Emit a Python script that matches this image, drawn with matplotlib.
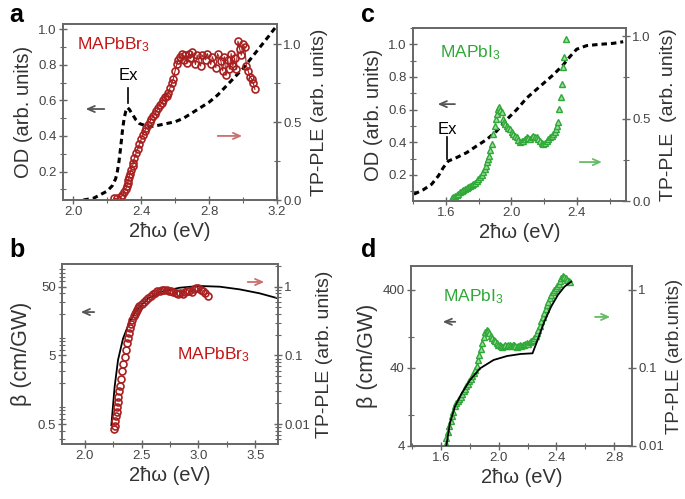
#!/usr/bin/env python3

from matplotlib import pyplot as plt
from matplotlib.ticker import MultipleLocator, LogLocator, NullFormatter
import matplotlib


FIGSIZE = (6.85, 4.99)
GRAY = "#666666"
TICKTXT = "#444444"
LABTXT = "#333333"
RED = "#a82020"
RED_TXT = "#c41414"
GREEN = "#2ea836"
GREEN_FILL = "#9fdca0"

# ---- panel a: MAPbBr3, OD (left) and TP-PLE (right)
a_od_x = [2.06, 2.12, 2.16, 2.20, 2.23, 2.25, 2.26, 2.27, 2.28, 2.29, 2.30, 2.31,
          2.32, 2.33, 2.35, 2.37, 2.39, 2.42, 2.44, 2.47, 2.50, 2.55, 2.60, 2.65,
          2.70, 2.75, 2.80, 2.85, 2.90, 2.95, 3.00, 3.05, 3.10, 3.15, 3.19]
a_od_y = [0.04, 0.05, 0.07, 0.09, 0.12, 0.16, 0.20, 0.26, 0.34, 0.43, 0.50, 0.54,
          0.56, 0.55, 0.52, 0.49, 0.47, 0.46, 0.455, 0.455, 0.46, 0.47, 0.48, 0.50,
          0.53, 0.56, 0.59, 0.63, 0.68, 0.73, 0.78, 0.84, 0.90, 0.96, 1.01]
a_ple_x = [2.24, 2.26, 2.28, 2.29, 2.30, 2.31, 2.315, 2.32, 2.325, 2.33, 2.335,
           2.34, 2.35, 2.355, 2.36, 2.37, 2.38, 2.39, 2.40, 2.41, 2.42, 2.43,
           2.44, 2.45, 2.46, 2.47, 2.48, 2.49, 2.50, 2.51, 2.52, 2.53, 2.54,
           2.55, 2.56, 2.57, 2.58, 2.59, 2.60, 2.61, 2.62, 2.63, 2.64, 2.65,
           2.66, 2.67, 2.68, 2.69, 2.70, 2.72, 2.73, 2.75, 2.76, 2.78, 2.79,
           2.81, 2.82, 2.84, 2.85, 2.87, 2.88, 2.89, 2.90, 2.91, 2.92, 2.93,
           2.94, 2.95, 2.96, 2.97, 2.98, 2.99, 3.00, 3.01, 3.02, 3.03, 3.04,
           3.05, 3.06, 3.07]
a_ple_y = [0.01, 0.01, 0.02, 0.03, 0.05, 0.07, 0.09, 0.11, 0.13, 0.15, 0.17,
           0.19, 0.22, 0.24, 0.27, 0.30, 0.33, 0.36, 0.39, 0.42, 0.44, 0.46,
           0.48, 0.50, 0.52, 0.54, 0.55, 0.57, 0.59, 0.61, 0.62, 0.64, 0.66,
           0.67, 0.69, 0.72, 0.75, 0.78, 0.83, 0.87, 0.90, 0.92, 0.94, 0.90,
           0.93, 0.88, 0.94, 0.91, 0.95, 0.87, 0.93, 0.86, 0.93, 0.90, 0.94,
           0.87, 0.92, 0.85, 0.94, 0.89, 0.83, 0.92, 0.80, 0.90, 0.84, 0.94,
           0.86, 0.91, 0.84, 1.02, 0.97, 0.93, 1.00, 0.98, 0.86, 0.83, 0.79,
           0.78, 0.75, 0.71]

# ---- panel b: MAPbBr3, beta (left, log) and TP-PLE (right, log)
b_fit_x = [2.234, 2.263, 2.293, 2.337, 2.395, 2.469, 2.556, 2.674, 2.835,
           3.01, 3.187, 3.363, 3.539, 3.70]
b_fit_y = [0.48, 1.75, 4.3, 8.8, 15.5, 24.2, 33.8, 42.3, 48.3, 51.2, 50.0,
           45.7, 40.0, 33.8]
b_ple_x = [2.26, 2.265, 2.27, 2.275, 2.28, 2.285, 2.29, 2.295, 2.30, 2.31,
           2.32, 2.33, 2.34, 2.35, 2.36, 2.37, 2.38, 2.39, 2.40, 2.41, 2.42,
           2.43, 2.44, 2.45, 2.46, 2.47, 2.48, 2.50, 2.52, 2.54, 2.56, 2.58,
           2.60, 2.62, 2.64, 2.66, 2.68, 2.70, 2.72, 2.74, 2.76, 2.78, 2.80,
           2.82, 2.84, 2.86, 2.88, 2.90, 2.92, 2.94, 2.96, 2.98, 3.00, 3.02,
           3.04, 3.06, 3.08]
b_ple_y = [0.0085, 0.0095, 0.011, 0.013, 0.015, 0.018, 0.021, 0.025, 0.03,
           0.036, 0.045, 0.06, 0.075, 0.095, 0.12, 0.15, 0.18, 0.21, 0.25,
           0.29, 0.33, 0.37, 0.40, 0.43, 0.46, 0.49, 0.52, 0.56, 0.60, 0.64,
           0.68, 0.73, 0.78, 0.82, 0.86, 0.88, 0.90, 0.89, 0.91, 0.88, 0.86,
           0.84, 0.80, 0.78, 0.81, 0.77, 0.83, 0.86, 0.88, 0.84, 0.92, 0.97,
           0.95, 0.90, 0.86, 0.80, 0.72]

# ---- panel c: MAPbI3, OD (left) and TP-PLE (right)
c_od_x = [1.406, 1.463, 1.514, 1.555, 1.585, 1.616, 1.666, 1.727, 1.788,
          1.85, 1.91, 1.972, 2.033, 2.094, 2.175, 2.256, 2.317, 2.358, 2.399,
          2.46, 2.541, 2.622, 2.683]
c_od_y = [0.082, 0.109, 0.143, 0.194, 0.245, 0.285, 0.306, 0.336, 0.377,
          0.417, 0.468, 0.539, 0.60, 0.671, 0.742, 0.813, 0.874, 0.925, 0.97,
          0.992, 1.0, 1.006, 1.016]
c_ple_x = [1.636, 1.646, 1.656, 1.666, 1.677, 1.687, 1.697, 1.707, 1.717,
           1.727, 1.738, 1.748, 1.758, 1.768, 1.778, 1.789, 1.799, 1.809,
           1.819, 1.829, 1.839, 1.847, 1.854, 1.860, 1.866, 1.873, 1.880,
           1.890, 1.900, 1.908, 1.915, 1.921, 1.927, 1.934, 1.941, 1.948,
           1.955, 1.963, 1.972, 1.982, 1.992, 2.002, 2.012, 2.022, 2.033,
           2.043, 2.053, 2.063, 2.073, 2.084, 2.094, 2.104, 2.114, 2.124,
           2.134, 2.145, 2.155, 2.165, 2.175, 2.185, 2.195, 2.205, 2.216,
           2.226, 2.236, 2.246, 2.256, 2.265, 2.273, 2.280, 2.287, 2.293,
           2.301, 2.307, 2.313, 2.321, 2.334]
c_ple_y = [0.02, 0.025, 0.03, 0.038, 0.045, 0.052, 0.061, 0.066, 0.071,
           0.078, 0.085, 0.091, 0.098, 0.105, 0.112, 0.122, 0.132, 0.145,
           0.159, 0.175, 0.193, 0.212, 0.234, 0.255, 0.274, 0.31, 0.346,
           0.407, 0.457, 0.50, 0.528, 0.56, 0.569, 0.55, 0.539, 0.50,
           0.478, 0.465, 0.457, 0.445, 0.437, 0.42, 0.407, 0.395, 0.386,
           0.37, 0.356, 0.362, 0.366, 0.375, 0.386, 0.38, 0.376, 0.39,
           0.396, 0.39, 0.386, 0.375, 0.366, 0.355, 0.346, 0.355, 0.366,
           0.375, 0.386, 0.395, 0.407, 0.42, 0.437, 0.455, 0.478, 0.559,
           0.63, 0.711, 0.813, 0.874, 0.986]

# ---- panel d: MAPbI3, beta (left, log) and TP-PLE (right, log)
d_fit_x = [1.636, 1.66, 1.695, 1.742, 1.80, 1.87, 1.964, 2.058, 2.152,
           2.234, 2.269, 2.316, 2.363, 2.41, 2.456, 2.503]
d_fit_y = [4.1, 7.8, 12.8, 18.9, 28.0, 39.6, 50.7, 57.0, 60.5, 61.7, 91.0,
           157.0, 244.0, 345.0, 441.0, 512.0]
d_ple_x = [1.63, 1.635, 1.645, 1.655, 1.665, 1.675, 1.685, 1.695, 1.705,
           1.715, 1.725, 1.735, 1.745, 1.755, 1.765, 1.775, 1.785, 1.795,
           1.805, 1.815, 1.825, 1.835, 1.845, 1.855, 1.865, 1.875, 1.885,
           1.895, 1.905, 1.915, 1.925, 1.935, 1.945, 1.955, 1.965, 1.975,
           1.985, 1.995, 2.005, 2.015, 2.025, 2.035, 2.045, 2.055, 2.065,
           2.075, 2.085, 2.095, 2.105, 2.115, 2.125, 2.135, 2.145, 2.155,
           2.165, 2.175, 2.185, 2.195, 2.205, 2.215, 2.225, 2.235, 2.245,
           2.255, 2.265, 2.275, 2.285, 2.295, 2.305, 2.315, 2.325, 2.335,
           2.345, 2.355, 2.365, 2.375, 2.385, 2.395, 2.405, 2.415, 2.425,
           2.435, 2.445, 2.455, 2.465, 2.475, 2.485, 2.495]
d_ple_y = [0.0105, 0.0125, 0.015, 0.018, 0.021, 0.024, 0.027, 0.033, 0.036,
           0.038, 0.040, 0.043, 0.047, 0.050, 0.054, 0.058, 0.062, 0.068,
           0.073, 0.078, 0.085, 0.095, 0.105, 0.125, 0.145, 0.175, 0.21,
           0.25, 0.29, 0.31, 0.30, 0.28, 0.26, 0.245, 0.23, 0.22, 0.21, 0.20,
           0.195, 0.19, 0.185, 0.19, 0.195, 0.19, 0.20, 0.195, 0.19, 0.20,
           0.195, 0.19, 0.185, 0.19, 0.20, 0.19, 0.195, 0.20, 0.205, 0.21,
           0.205, 0.215, 0.22, 0.23, 0.24, 0.255, 0.28, 0.31, 0.35, 0.40,
           0.45, 0.51, 0.57, 0.64, 0.71, 0.78, 0.86, 0.94, 1.00, 1.06, 1.12,
           1.20, 1.30, 1.42, 1.52, 1.48, 1.42, 1.35, 1.30, 1.27]


def px_axes(fig, left, top, right, bottom):
    # box given in pixel coordinates of the 685x499 figure
    W, H = 685.0, 499.0
    return fig.add_axes([left / W, 1 - bottom / H, (right - left) / W,
                         (bottom - top) / H])


def style_axes(ax, ax2):
    for a in (ax, ax2):
        for s in a.spines.values():
            s.set_color(GRAY)
            s.set_linewidth(1.2)
        a.tick_params(which="both", direction="inout", color=GRAY,
                      labelcolor=TICKTXT, labelsize=9.5, pad=1.5)
        a.tick_params(which="major", length=6, width=1.0)
        a.tick_params(which="minor", length=4, width=0.8)


def arrow(ax, x0, x1, y, color):
    ax.annotate("", xy=(x0, y), xytext=(x1, y), xycoords="axes fraction",
                arrowprops=dict(arrowstyle="->,head_length=0.5,head_width=0.22",
                                color=color, lw=1.3))


def label_axes(ax, ax2, left, right, lsize=14.5, rsize=14, lpad=4, rpad=6):
    ax.set_xlabel("2ħω (eV)", fontsize=14.5, color=LABTXT, labelpad=3)
    ax.set_ylabel(left, fontsize=lsize, color=LABTXT, labelpad=lpad)
    ax2.set_ylabel(right, fontsize=rsize, color=LABTXT, labelpad=rpad)


def plot_a(fig):
    ax = px_axes(fig, 63, 24, 277, 200)
    ax2 = ax.twinx()
    ax.plot(a_od_x, a_od_y, color="black", lw=2.2, ls=(0, (1.8, 1.3)))
    ax2.plot(a_ple_x, a_ple_y, "o-", color=RED, lw=0.8, ms=5, mfc="none",
             mew=1.2)
    ax.set_xlim(1.94, 3.2)
    ax.set_ylim(0.04, 1.03)
    ax2.set_ylim(0.0, 1.13)
    ax.xaxis.set_major_locator(MultipleLocator(0.4))
    ax.xaxis.set_minor_locator(MultipleLocator(0.2))
    ax.yaxis.set_major_locator(MultipleLocator(0.2))
    ax.yaxis.set_minor_locator(MultipleLocator(0.1))
    ax2.yaxis.set_major_locator(MultipleLocator(0.5))
    ax2.yaxis.set_minor_locator(MultipleLocator(0.25))
    style_axes(ax, ax2)
    label_axes(ax, ax2, "OD (arb. units)", "TP-PLE (arb. units)", rpad=7)
    ax.text(0.065, 0.88, r"MAPbBr$_\mathregular{3}$", transform=ax.transAxes,
            color=RED_TXT, fontsize=12.5, va="center")
    ax.text(0.304, 0.71, "Ex", transform=ax.transAxes, fontsize=12,
            ha="center", va="center")
    ax.plot([0.304, 0.304], [0.55, 0.635], transform=ax.transAxes,
            color="black", lw=1.2)
    arrow(ax, 0.093, 0.206, 0.517, "#555555")
    arrow(ax, 0.85, 0.71, 0.364, "#c87070")


def plot_b(fig):
    ax = px_axes(fig, 62, 264, 278, 444)
    ax2 = ax.twinx()
    ax.set_yscale("log")
    ax2.set_yscale("log")
    ax.plot(b_fit_x, b_fit_y, color="black", lw=1.3)
    ax2.plot(b_ple_x, b_ple_y, "o", color=RED, ms=5, mfc="none", mew=1.2)
    ax.set_xlim(1.8, 3.7)
    ax.set_ylim(0.256, 107)
    ax2.set_ylim(0.256 / 50, 107 / 50)
    ax.xaxis.set_major_locator(MultipleLocator(0.5))
    ax.xaxis.set_minor_locator(MultipleLocator(0.25))
    ax.set_yticks([0.5, 5, 50], ["0.5", "5", "50"])
    ax2.set_yticks([0.01, 0.1, 1], ["0.01", "0.1", "1"])
    for a in (ax, ax2):
        a.yaxis.set_minor_locator(LogLocator(base=10, subs=range(2, 10)))
        a.yaxis.set_minor_formatter(NullFormatter())
    style_axes(ax, ax2)
    label_axes(ax, ax2, "β (cm/GW)", "TP-PLE (arb. units)", lsize=15.5,
               lpad=4, rpad=4)
    ax.text(0.532, 0.494, r"MAPbBr$_\mathregular{3}$", transform=ax.transAxes,
            color=RED_TXT, fontsize=12.5, va="center")
    arrow(ax, 0.074, 0.162, 0.733, "#555555")
    arrow(ax, 0.949, 0.847, 0.9, "#c87070")


def plot_c(fig):
    ax = px_axes(fig, 413, 28, 626, 201)
    ax2 = ax.twinx()
    ax.plot(c_od_x, c_od_y, color="black", lw=2.2, ls=(0, (1.8, 1.3)))
    ax2.plot(c_ple_x, c_ple_y, "^", color=GREEN, ms=4.5, mfc=GREEN_FILL,
             mew=1.0)
    ax.set_xlim(1.4, 2.7)
    ax.set_ylim(0.04, 1.1)
    ax2.set_ylim(0.0, 1.05)
    ax.xaxis.set_major_locator(MultipleLocator(0.4))
    ax.xaxis.set_minor_locator(MultipleLocator(0.2))
    ax.yaxis.set_major_locator(MultipleLocator(0.2))
    ax.yaxis.set_minor_locator(MultipleLocator(0.1))
    ax2.yaxis.set_major_locator(MultipleLocator(0.5))
    ax2.yaxis.set_minor_locator(MultipleLocator(0.25))
    style_axes(ax, ax2)
    label_axes(ax, ax2, "OD (arb. units)", "TP-PLE  (arb. units)", rpad=7)
    ax.text(0.127, 0.86, r"MAPbI$_\mathregular{3}$", transform=ax.transAxes,
            color=GREEN, fontsize=12.5, va="center")
    ax.text(0.16, 0.416, "Ex", transform=ax.transAxes, fontsize=12,
            ha="center", va="center")
    ax.plot([0.16, 0.16], [0.243, 0.37], transform=ax.transAxes,
            color="black", lw=1.2)
    arrow(ax, 0.103, 0.21, 0.56, "#555555")
    arrow(ax, 0.90, 0.77, 0.225, "#66bb66")


def plot_d(fig):
    ax = px_axes(fig, 411, 266, 632, 446)
    ax2 = ax.twinx()
    ax.set_yscale("log")
    ax2.set_yscale("log")
    ax2.plot(d_ple_x, d_ple_y, "^", color=GREEN, ms=4.5, mfc=GREEN_FILL,
             mew=1.0, zorder=1)
    ax.plot(d_fit_x, d_fit_y, color="black", lw=1.3, zorder=3)
    ax.set_zorder(ax2.get_zorder() + 1)
    ax.patch.set_visible(False)
    ax.set_xlim(1.39, 2.925)
    ax.set_ylim(4, 812)
    ax2.set_ylim(4 / 400, 812 / 400)
    ax.xaxis.set_major_locator(MultipleLocator(0.4))
    ax.xaxis.set_minor_locator(MultipleLocator(0.2))
    ax.set_yticks([4, 40, 400], ["4", "40", "400"])
    ax2.set_yticks([0.01, 0.1, 1], ["0.01", "0.1", "1"])
    for a in (ax, ax2):
        a.yaxis.set_minor_locator(LogLocator(base=10, subs=[]))
        a.yaxis.set_minor_formatter(NullFormatter())
    style_axes(ax, ax2)
    label_axes(ax, ax2, "β (cm/GW)", "TP-PLE (arb.units)", lsize=15.5,
               rsize=13.5, lpad=3, rpad=1)
    ax.text(0.145, 0.83, r"MAPbI$_\mathregular{3}$", transform=ax.transAxes,
            color=GREEN, fontsize=12.5, va="center")
    arrow(ax, 0.131, 0.213, 0.69, "#555555")
    arrow(ax, 0.914, 0.82, 0.717, "#66bb66")


def setup():
    matplotlib.rcParams.update({
        "font.family": ["Liberation Sans", "DejaVu Sans"],
        "mathtext.fontset": "custom",
        "mathtext.rm": "Liberation Sans",
        "mathtext.it": "Liberation Sans:italic",
        "mathtext.bf": "Liberation Sans:bold",
    })


def main():
    setup()
    fig = plt.figure(figsize=FIGSIZE, dpi=100)
    plot_a(fig)
    plot_b(fig)
    plot_c(fig)
    plot_d(fig)
    for letter, x, y in [("a", 9, 3), ("b", 9, 238), ("c", 361, 3), ("d", 361, 238)]:
        fig.text(x / 685, 1 - y / 499, letter, fontsize=18, fontweight="bold",
                 va="top", ha="left")
    fig.savefig("out.png", dpi=100)


if __name__ == "__main__":
    main()
